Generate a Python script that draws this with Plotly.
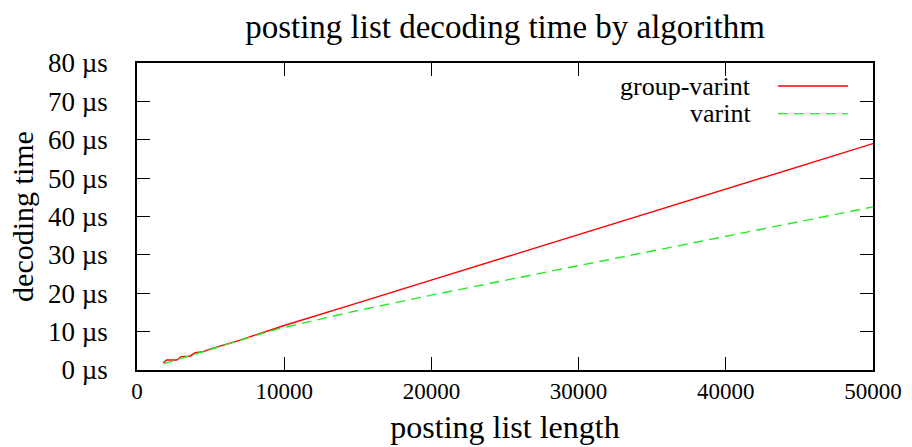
import plotly.graph_objects as go

# Data
gv_len = [1800, 2000, 2700, 3000, 3600, 3950, 4500, 5000, 7000, 10000, 15000, 20000, 25000, 30000, 35000, 40000, 45000, 50000]
gv_time = [1.8, 2.6, 2.6, 3.5, 3.6, 4.5, 4.8, 5.5, 7.8, 11.6, 17.5, 23.4, 29.3, 35.2, 41.1, 47.0, 52.9, 59.0]

vi_len = [1800, 3000, 4000, 5000, 6000, 7000, 8000, 9000, 10000, 12000, 15000, 20000, 25000, 30000, 35000, 40000, 45000, 50000]
vi_time = [1.6, 3.0, 4.2, 5.4, 6.6, 7.8, 9.0, 10.1, 11.1, 12.9, 15.5, 19.5, 23.4, 27.2, 31.0, 34.8, 38.7, 42.5]

x_ticks = [0, 10000, 20000, 30000, 40000, 50000]
y_ticks = [0, 10, 20, 30, 40, 50, 60, 70, 80]
y_tick_text = [f"{v} µs" for v in y_ticks]

series_names = ["group-varint", "varint"]
series_colors = ["#ff0000", "#22ee22"]

FONT = "Liberation Serif"

fig = go.Figure()
fig.add_trace(go.Scatter(x=gv_len, y=gv_time, mode="lines", name=series_names[0],
                         line=dict(color=series_colors[0], width=1.4), showlegend=False))
fig.add_trace(go.Scatter(x=vi_len, y=vi_time, mode="lines", name=series_names[1],
                         line=dict(color=series_colors[1], width=1.4, dash="10px,6px"), showlegend=False))

axis_common = dict(showgrid=False, zeroline=False, showline=True, linecolor="black", linewidth=1.5,
                   mirror="allticks", ticks="inside", ticklen=13, tickwidth=1, tickcolor="black",
                   automargin=False)

fig.update_xaxes(range=[0, 50000], tickvals=x_ticks, ticktext=[str(v) for v in x_ticks],
                 tickfont=dict(family=FONT, size=23, color="black"),
                 title=dict(text="posting list length", font=dict(family=FONT, size=32, color="black"), standoff=12),
                 **axis_common)
fig.update_yaxes(range=[0, 80], tickvals=y_ticks, ticktext=y_tick_text,
                 tickfont=dict(family=FONT, size=27, color="black"), ticklabelstandoff=22,
                 title=dict(text="decoding time", font=dict(family=FONT, size=30, color="black"), standoff=6),
                 **axis_common)

# Legend drawn gnuplot-style: right-aligned text with sample line to its right
legend_y = [0.925, 0.835]
for name, color, yy, dash in zip(series_names, series_colors, legend_y, ["solid", "10px,6px"]):
    fig.add_annotation(x=0.836, y=yy, xref="paper", yref="paper", text=name, showarrow=False, borderpad=0,
                       xanchor="right", yanchor="middle", font=dict(family=FONT, size=26, color="black"))
    fig.add_shape(type="line", xref="paper", yref="paper", x0=0.871, x1=0.966, y0=yy, y1=yy,
                  line=dict(color=color, width=1.4, dash=dash))

fig.update_layout(
    width=912, height=447,
    margin=dict(l=137, r=39, t=63, b=77),
    paper_bgcolor="white", plot_bgcolor="white",
    title=dict(text="posting list decoding time by algorithm", x=0.5, xref="paper", y=0.94, yanchor="middle",
               font=dict(family=FONT, size=33, color="black")),
    font=dict(family=FONT, color="black"),
)

fig.write_html("out.html")
